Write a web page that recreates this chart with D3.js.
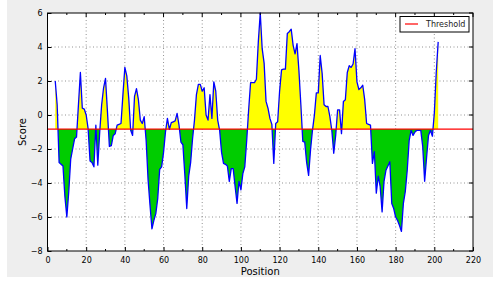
<!DOCTYPE html>
<html>
<head>
<meta charset="utf-8">
<script src="https://cdn.jsdelivr.net/npm/d3@7"></script>
<style>
body{margin:0;background:#fff;}
svg{display:block;font-family:"DejaVu Sans",sans-serif;}
</style>
</head>
<body>
<svg id="chart" width="495" height="287"></svg>
<script>
var width = 495;
var height = 287;

// scores, one per position starting at 4
var startPos = 4;
var scores = [
  2.0, 0.6, -2.8, -2.9, -3.0, -4.8, -6.0, -4.5, -2.6, -2.0,
  -1.4, -1.3, 0.6, 2.5, 0.4, 0.35, 0.0, -0.8, -2.7, -2.8,
  -3.05, -0.6, -2.95, -1.0, 0.6, 1.6, 2.15, 0.2, -1.85, -1.8,
  -1.2, -1.1, -0.6, -0.55, -0.5, 1.2, 2.8, 2.3, 1.0, -0.9,
  -1.2, 1.1, 1.55, 0.9, -0.3, -0.5, -0.1, -1.5, -3.8, -5.3,
  -6.7, -6.2, -5.8, -4.9, -3.2, -3.05, -2.2, -1.0, -0.2, -0.85,
  -0.45, -0.4, -0.35, 0.1, -0.6, -1.6, -1.75, -3.5, -5.5, -3.6,
  -2.8, -1.4, -0.3, 1.2, 1.8, 1.8, 1.4, 1.6, 0.0, -0.3,
  1.2, -0.2, 1.95, 1.4, -0.3, -0.9, -2.2, -2.85, -2.9, -3.0,
  -3.9, -3.15, -3.15, -4.2, -5.2, -3.9, -4.4, -3.45, -3.05, -1.5,
  0.3, 1.9, 1.9, 1.9, 2.1, 4.3, 6.0, 3.9, 3.05, 0.8,
  0.4, -0.2, -0.55, -2.85, -0.5, -0.4, 1.4, 2.65, 2.7, 2.7,
  4.8, 4.9, 5.05, 4.1, 3.6, 4.2, 2.6, 0.6, -1.55, -1.6,
  -2.8, -3.55, -2.05, -0.9, 0.0, 1.3, 1.3, 3.5, 2.45, 0.6,
  0.5, 0.5, -0.1, -0.9, -2.25, -1.2, 0.3, 0.3, -1.1, 0.8,
  0.9, 2.5, 2.9, 2.8, 3.0, 3.9, 1.95, 1.5, 1.6, 1.75,
  0.9, -0.5, -0.55, -0.6, -2.85, -2.15, -4.6, -3.6, -4.2, -5.7,
  -3.9, -3.25, -3.0, -2.75, -5.2, -5.5, -6.0, -6.2, -6.5, -6.85,
  -5.2, -4.5, -3.25, -1.5, -0.9, -1.2, -1.0, -0.9, -0.9, -0.9,
  -1.85, -3.9, -2.5, -1.2, -0.9, -1.25, 0.1, 2.5, 4.3
];
var threshold = -0.83;
var xTicks = [0, 20, 40, 60, 80, 100, 120, 140, 160, 180, 200, 220];
var xMinorTicks = [10, 30, 50, 70, 90, 110, 130, 150, 170, 190, 210];
var yTicks = [-8, -6, -4, -2, 0, 2, 4, 6];

var data = scores.map((d, i) => ({pos: startPos + i, score: d}));

var margin = {left: 47.5, right: 22, top: 13, bottom: 36};
var svg = d3.select('#chart');

svg.append('rect')
  .attr('x', 7).attr('y', 0)
  .attr('width', 486).attr('height', 277)
  .attr('fill', '#eeeeee');

var xscale = d3.scaleLinear().domain([0, 220]).range([margin.left, width - margin.right]);
var yscale = d3.scaleLinear().domain([-8, 6]).range([height - margin.bottom, margin.top]);

svg.append('rect')
  .attr('x', xscale(0)).attr('y', yscale(6))
  .attr('width', xscale(220) - xscale(0))
  .attr('height', yscale(-8) - yscale(6))
  .attr('fill', 'white');

var defs = svg.append('defs');
defs.append('clipPath').attr('id', 'above')
  .append('rect')
  .attr('x', xscale(0)).attr('y', yscale(6))
  .attr('width', xscale(220) - xscale(0))
  .attr('height', yscale(threshold) - yscale(6));
defs.append('clipPath').attr('id', 'below')
  .append('rect')
  .attr('x', xscale(0)).attr('y', yscale(threshold))
  .attr('width', xscale(220) - xscale(0))
  .attr('height', yscale(-8) - yscale(threshold));

// grid
var grid = svg.append('g').classed('grid', true);
grid.selectAll('.vg').data(xTicks.slice(1, -1)).enter()
  .append('line')
  .attr('x1', d => xscale(d)).attr('x2', d => xscale(d))
  .attr('y1', yscale(6)).attr('y2', yscale(-8))
  .attr('stroke', '#777').attr('stroke-width', 0.8)
  .attr('stroke-dasharray', '1,2.5');
grid.selectAll('.hg').data(yTicks.slice(1, -1)).enter()
  .append('line')
  .attr('x1', xscale(0)).attr('x2', xscale(220))
  .attr('y1', d => yscale(d)).attr('y2', d => yscale(d))
  .attr('stroke', '#777').attr('stroke-width', 0.8)
  .attr('stroke-dasharray', '1,2.5');

var area = d3.area()
  .x(d => xscale(d.pos))
  .y0(yscale(threshold))
  .y1(d => yscale(d.score));

svg.append('path')
  .datum(data)
  .attr('d', area)
  .attr('fill', '#ffff00')
  .attr('clip-path', 'url(#above)');
svg.append('path')
  .datum(data)
  .attr('d', area)
  .attr('fill', '#00cc00')
  .attr('clip-path', 'url(#below)');

var line = d3.line()
  .x(d => xscale(d.pos))
  .y(d => yscale(d.score));

svg.append('path')
  .datum(data)
  .attr('d', line)
  .attr('fill', 'none')
  .attr('stroke', '#0000ff')
  .attr('stroke-width', 1.3)
  .attr('stroke-linejoin', 'round');

svg.append('line')
  .attr('x1', xscale(0)).attr('x2', xscale(220))
  .attr('y1', yscale(threshold)).attr('y2', yscale(threshold))
  .attr('stroke', '#ff0000').attr('stroke-width', 1.2);

// axes (ticks point inward)
var xAxis = d3.axisBottom(xscale).tickValues(xTicks).tickSize(-4).tickPadding(6).tickFormat(d => d);
var xAxisG = svg.append('g')
  .classed('xAxis', true)
  .attr('transform', `translate(0,${yscale(-8)})`)
  .call(xAxis);
var yAxis = d3.axisLeft(yscale).tickValues(yTicks).tickSize(-4).tickPadding(5)
  .tickFormat(d => d < 0 ? '\u2212' + Math.abs(d) : d);
var yAxisG = svg.append('g')
  .classed('yAxis', true)
  .attr('transform', `translate(${xscale(0)},0)`)
  .call(yAxis);

[xAxisG, yAxisG].forEach(g => {
  g.select('.domain').remove();
  g.selectAll('text').attr('font-size', '8px').attr('fill', '#000')
    .attr('font-family', '"DejaVu Sans",sans-serif');
  g.selectAll('line').attr('stroke', '#000');
});

// top and right ticks + minor ticks
svg.selectAll('.topTick').data(xTicks).enter().append('line')
  .attr('x1', d => xscale(d)).attr('x2', d => xscale(d))
  .attr('y1', yscale(6)).attr('y2', yscale(6) + 4)
  .attr('stroke', '#000');
svg.selectAll('.minorTick').data(xMinorTicks).enter().append('line')
  .attr('x1', d => xscale(d)).attr('x2', d => xscale(d))
  .attr('y1', yscale(-8)).attr('y2', yscale(-8) - 2)
  .attr('stroke', '#000');
svg.selectAll('.minorTopTick').data(xMinorTicks).enter().append('line')
  .attr('x1', d => xscale(d)).attr('x2', d => xscale(d))
  .attr('y1', yscale(6)).attr('y2', yscale(6) + 2)
  .attr('stroke', '#000');
svg.selectAll('.rightTick').data(yTicks).enter().append('line')
  .attr('x1', xscale(220)).attr('x2', xscale(220) - 4)
  .attr('y1', d => yscale(d)).attr('y2', d => yscale(d))
  .attr('stroke', '#000');

// frame
svg.append('rect')
  .attr('x', xscale(0)).attr('y', yscale(6))
  .attr('width', xscale(220) - xscale(0))
  .attr('height', yscale(-8) - yscale(6))
  .attr('fill', 'none')
  .attr('stroke', '#000').attr('stroke-width', 1);

svg.append('text')
  .attr('x', (xscale(0) + xscale(220)) / 2)
  .attr('y', 275)
  .attr('text-anchor', 'middle')
  .attr('font-size', '10px')
  .text('Position');

svg.append('text')
  .attr('transform', `translate(26,${(yscale(6) + yscale(-8)) / 2}) rotate(-90)`)
  .attr('text-anchor', 'middle')
  .attr('font-size', '10px')
  .text('Score');

// legend
var legend = svg.append('g').attr('transform', 'translate(400,16.5)');
legend.append('rect')
  .attr('width', 69).attr('height', 15.5)
  .attr('fill', 'white').attr('stroke', '#000').attr('stroke-width', 1);
legend.append('line')
  .attr('x1', 5).attr('x2', 18).attr('y1', 7.5).attr('y2', 7.5)
  .attr('stroke', '#ff0000').attr('stroke-width', 1.2);
legend.append('text')
  .attr('x', 26).attr('y', 10.8)
  .attr('font-size', '8px')
  .attr('fill', '#222')
  .text('Threshold');
</script>
</body>
</html>
